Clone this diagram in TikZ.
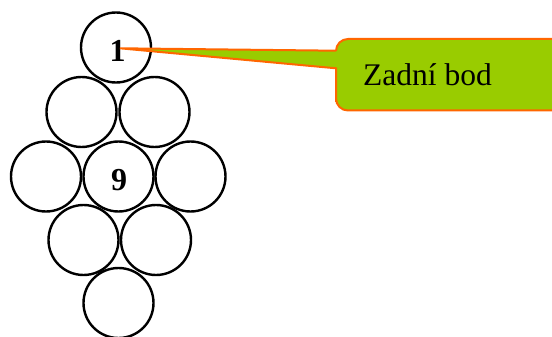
\documentclass[tikz,border=0pt]{standalone}
\usepackage{fontspec}
\setmainfont{Liberation Serif}
\newfontfamily\timesfont{Liberation Serif}
\definecolor{calloutgreen}{HTML}{99CC00}
\definecolor{calloutorange}{HTML}{FF6600}
\begin{document}
\begin{tikzpicture}[x=1pt,y=-1pt,
  ball/.style={circle,draw=black,line width=2.4pt,minimum size=70pt,inner sep=0pt},
  numtext/.style={font=\timesfont\fontsize{32}{32}\selectfont\bfseries,inner sep=0pt},
  callout/.style={fill=calloutgreen,draw=calloutorange,line width=2pt,line join=miter},
  callouttext/.style={font=\timesfont\fontsize{31.5}{31.5}\selectfont,inner sep=0pt,anchor=base west}]
\useasboundingbox (0,0) rectangle (552,337);
\clip (0,0) rectangle (552,337);
\node[ball] (c1) at (116,47.5) {};
\node[ball] (c2) at (81.5,112) {};
\node[ball] (c3) at (154.5,112) {};
\node[ball] (c4) at (46,176.5) {};
\node[ball] (c5) at (118.5,176.5) {};
\node[ball] (c6) at (190.5,176.5) {};
\node[ball] (c7) at (83.5,240) {};
\node[ball] (c8) at (156,240) {};
\node[ball] (c9) at (118.5,303) {};
\path (c1.center) ++(1.5,3.5) node[numtext] (n1) {1};
\path (c5.center) ++(0.5,3.5) node[numtext] (n9) {9};
\coordinate (tip) at (120,48.3);
\draw[callout] (tip) -- (336,50.7)
  {[rounded corners=12pt] -- (336,39) -- (566,39) -- (566,110.5) -- (336,110.5) -- (336,90)}
  -- (336,68.3) -- cycle;
\node[callouttext] (lab) at (363,85) {Zadní bod};
\end{tikzpicture}
\end{document}
